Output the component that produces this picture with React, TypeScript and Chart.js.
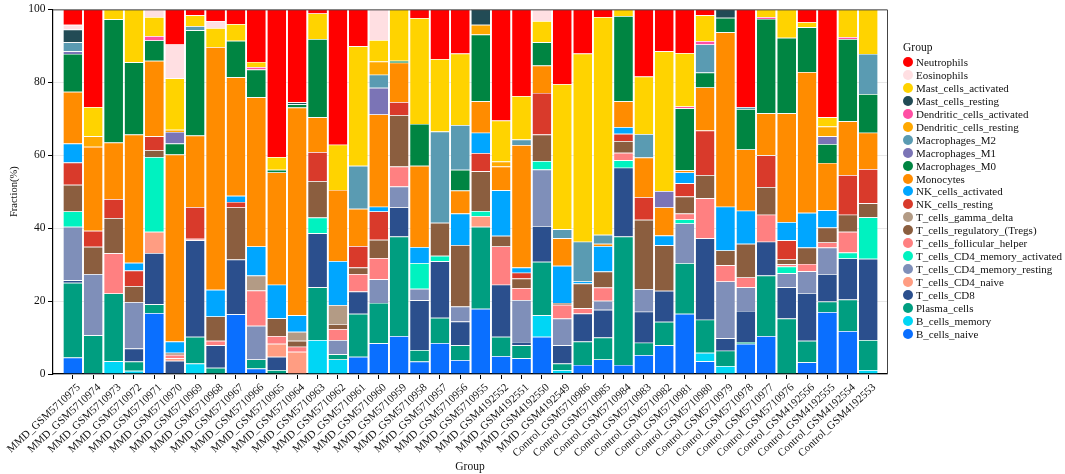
import React, { useEffect, useRef } from 'react';
import { Chart, registerables } from 'chart.js';

Chart.register(...registerables);

const samples = [
  'MMD_GSM5710975', 'MMD_GSM5710974', 'MMD_GSM5710973', 'MMD_GSM5710972', 'MMD_GSM5710971',
  'MMD_GSM5710970', 'MMD_GSM5710969', 'MMD_GSM5710968', 'MMD_GSM5710967', 'MMD_GSM5710966',
  'MMD_GSM5710965', 'MMD_GSM5710964', 'MMD_GSM5710963', 'MMD_GSM5710962', 'MMD_GSM5710961',
  'MMD_GSM5710960', 'MMD_GSM5710959', 'MMD_GSM5710958', 'MMD_GSM5710957', 'MMD_GSM5710956',
  'MMD_GSM5710955', 'MMD_GSM4192552', 'MMD_GSM4192551', 'MMD_GSM4192550', 'MMD_GSM4192549',
  'Control_GSM5710986', 'Control_GSM5710985', 'Control_GSM5710984', 'Control_GSM5710983',
  'Control_GSM5710982', 'Control_GSM5710981', 'Control_GSM5710980', 'Control_GSM5710979',
  'Control_GSM5710978', 'Control_GSM5710977', 'Control_GSM5710976', 'Control_GSM4192556',
  'Control_GSM4192555', 'Control_GSM4192554', 'Control_GSM4192553',
];

// fractions (%) per sample, stacked bottom -> top
const bCellsNaive = [4.5, 0.3, 0, 0, 16.7, 0.3, 0, 0, 16.4, 1.5, 0, 0, 0, 0, 4.7, 8.4, 10.4, 3.4, 8.5, 3.8, 17.9, 4.9, 4.3, 10.2, 0.3, 2.5, 4, 2.5, 5.2, 7.9, 16.5, 3.5, 0, 8.3, 10.4, 0, 3.2, 17, 11.8, 0];
const bCellsMemory = [0, 0, 3.5, 0.9, 0, 0, 2.9, 0, 0, 0, 0, 0, 9.3, 4, 0, 0, 0, 0, 0, 0, 0, 0, 0, 5.9, 0.8, 0, 0, 0, 0, 0, 0, 2.3, 2.2, 0, 0, 0, 0, 0, 0, 1.1];
const plasmaCells = [20.5, 10.3, 18.6, 2.5, 2.4, 0, 7.3, 1.7, 0, 2.5, 1.1, 0, 14.5, 1.4, 11.8, 11.1, 27.3, 3.2, 6.9, 4.1, 22.5, 5.3, 3.6, 14.7, 1.8, 6.4, 6, 35.2, 3.4, 6.4, 13.9, 9.1, 4.2, 0.5, 16.6, 15.2, 5.9, 2.9, 8.6, 8.2];
const tCD8 = [0.7, 0, 0, 3.6, 14.1, 3.3, 26.5, 6.2, 15, 0, 3.6, 0, 14.8, 0, 6.1, 0, 8, 13.6, 15.5, 6.5, 0, 14.3, 0.9, 9.8, 5, 7.7, 7.6, 18.9, 8.5, 8.5, 0, 22.3, 3.4, 8.5, 9.3, 8.6, 13.1, 7.5, 11.3, 22.3];
const tCD4Naive = [0, 0, 0, 0, 5.8, 0.7, 0, 0, 0, 0, 3.6, 6.1, 0, 0, 0, 0, 0, 0, 0, 0, 2.9, 0, 0, 0, 0, 0, 0, 0, 0, 0, 0, 0, 0, 0, 0, 0, 0, 0, 0, 0];
const tCD4MemResting = [14.7, 16.8, 0, 12.7, 0, 0, 0, 0, 0, 9.2, 0, 0, 0, 3.9, 0, 6.5, 5.7, 3.2, 0, 4.1, 0, 0, 11.5, 15.5, 7.3, 0, 2.5, 0, 6.2, 0, 10.9, 0, 15.6, 6.5, 0, 3.8, 6, 7.3, 0, 0];
const tCD4MemActivated = [4.2, 0, 0, 0, 20.5, 0, 0, 0, 0, 0, 0, 0, 4.3, 0, 0, 0, 0, 7, 1.5, 0, 1.4, 0, 0, 2.3, 0, 0, 0, 2, 0, 0, 1.1, 0, 0, 0, 0, 1.9, 0, 0, 1.6, 11.4];
const tFollicular = [0, 0, 11, 0, 0, 1, 0.4, 1.2, 0, 9.7, 2.1, 1.4, 0, 3, 4.8, 5.8, 5.5, 0, 0, 0, 0, 10.5, 3.3, 0, 3.8, 1.4, 3.6, 2.1, 0, 0, 1.6, 11, 4.4, 2.7, 7.4, 0.6, 2, 1.4, 5.7, 0];
const tRegs = [7.3, 7.5, 9.7, 4.4, 1.9, 0.5, 0, 6.7, 14.3, 0, 4.9, 1.6, 10, 1.4, 1.8, 5, 14.1, 0, 9.1, 16.9, 10.9, 2.9, 2.6, 7.3, 0.5, 6.8, 4.4, 3.2, 19, 12.5, 4.7, 6.4, 4.1, 9.2, 7.6, 1.4, 4.5, 4.1, 4.7, 3.8];
const tGammaDelta = [0, 0, 0, 0, 0, 0, 0, 0, 0, 4.1, 0, 2.5, 0, 5.2, 0, 0, 0, 0, 0, 0, 0, 0, 0, 0, 0, 0, 0, 0, 0, 0, 0, 0, 0, 0, 0, 0, 0, 0, 0, 0];
const nkResting = [6.1, 4.4, 5.2, 4.3, 3.8, 0, 8.7, 0, 1.5, 0, 0, 0, 8, 0, 5.9, 7.8, 3.6, 0, 0, 0, 5, 0, 1.6, 11.4, 0, 0, 0, 2, 6.2, 0, 3.6, 12.2, 0, 0, 8.7, 5.2, 0, 0, 10.9, 9.4];
const nkActivated = [5.2, 0, 0, 2.1, 0, 3.1, 0, 7.3, 1.7, 8, 9.2, 4.5, 0, 12.1, 0, 1.3, 0, 4.4, 0, 8.6, 5.6, 12.5, 1.4, 0, 10.2, 0.6, 7, 1.8, 0, 2.7, 3, 0, 12, 9.1, 0, 5, 9.5, 4.7, 0, 0];
const monocytes = [14.2, 23, 15.5, 35.2, 20.7, 51.3, 19.6, 66.6, 32.5, 40.9, 30.8, 57, 9.5, 19.5, 10.2, 25.3, 10.8, 22.3, 0, 6.3, 8.6, 6.5, 33.6, 7.5, 7.5, 0, 0.6, 7.1, 10.9, 7.7, 0.6, 11.8, 47.8, 16.8, 11.5, 29.8, 38.6, 13, 14.7, 10];
const macroM0 = [10.4, 0, 33.8, 19.8, 5.6, 3, 28.9, 0, 10, 7.6, 0.7, 0.9, 21.5, 0, 0, 0, 0.5, 11.5, 0, 5.7, 18.3, 0, 0, 6.4, 0, 0, 0, 23.4, 0, 0, 17, 4.1, 4, 11.1, 25.9, 20.7, 12.3, 5.2, 22.6, 10.6];
const macroM1 = [0.7, 0, 0, 0, 0, 3.2, 0, 0, 0, 0, 0, 0, 0, 0, 0, 7.3, 0, 0, 0, 0, 0, 0, 0, 0, 0, 0, 0, 0, 0, 4.5, 0, 0, 0, 0, 0, 0, 0, 2.1, 0, 0];
const macroM2 = [2.5, 0, 0, 0, 0, 0, 1.1, 0, 0, 0, 0, 0, 0, 0, 11.8, 3.6, 0, 0, 25, 12.3, 0, 0, 1.5, 0, 2.5, 10.9, 2.5, 0, 6.4, 0, 0, 7.7, 0, 0.5, 0, 0, 0, 0, 0, 11];
const dcResting = [0, 2.9, 0, 0, 0, 0.6, 0, 0, 0, 0, 0, 0, 0, 0, 0, 3.6, 0, 0, 0, 0, 2.7, 1.4, 0, 0, 0, 0, 0, 0, 0, 0, 0, 0, 0, 0, 0, 0, 0, 2.7, 0, 0];
const dcActivated = [0, 0, 0, 0, 1.2, 0, 0, 0, 0, 0.7, 0, 0, 0, 0, 0, 0, 0, 0, 0, 0, 0, 0, 0, 0, 0, 0, 0, 0, 0, 0, 0.5, 0.9, 0, 0, 0.5, 0, 0, 0, 0.5, 0];
const mastResting = [3.5, 0, 0, 0, 0, 0, 0, 0, 0, 0, 0, 0.5, 0, 0, 0, 0, 0, 0, 0, 0, 4.2, 0, 0, 0, 0, 0, 0, 0, 0, 0, 0, 0, 2.3, 0, 0, 0, 0, 0, 0, 0];
const mastActivated = [0, 8, 2.7, 14.5, 5.2, 14.1, 3, 5.2, 4.6, 1.4, 3.5, 0, 7, 12.4, 32.8, 5.9, 14.1, 29, 19.9, 19.6, 0, 11.2, 11.9, 5.8, 39.8, 51.6, 59.7, 1.8, 15.8, 38.3, 14.6, 7.1, 0, 0, 2.1, 7.8, 1.4, 2.5, 7.6, 12.2];
const eosinophils = [1.3, 0, 0, 0, 2.1, 9.3, 0, 1.9, 0, 0, 0, 0, 0, 0, 0, 8.4, 0, 0, 0, 0, 0, 0, 0, 3.2, 0, 0, 0, 0, 0, 0, 0, 0, 0, 0, 0, 0, 0, 0, 0, 0];
const neutrophils = [4.2, 26.8, 0, 0, 0, 9.6, 1.6, 3.2, 4, 14.4, 40.5, 25.5, 1.1, 37.1, 10.1, 0, 0, 2.4, 13.6, 12.1, 0, 30.5, 23.8, 0, 20.5, 12.1, 2.1, 0, 18.4, 11.5, 12, 1.6, 0, 26.8, 0, 0, 3.5, 29.6, 0, 0];

const yTicks = [0, 20, 40, 60, 80, 100];

// legend order (top -> bottom), which is the reverse of the stack
const cellTypes: [string, number[], string][] = [
  ['Neutrophils', neutrophils, '#ff0000'],
  ['Eosinophils', eosinophils, '#ffdfe2'],
  ['Mast_cells_activated', mastActivated, '#ffd300'],
  ['Mast_cells_resting', mastResting, '#224b55'],
  ['Dendritic_cells_activated', dcActivated, '#ff4fa3'],
  ['Dendritic_cells_resting', dcResting, '#ffa800'],
  ['Macrophages_M2', macroM2, '#5a9bb2'],
  ['Macrophages_M1', macroM1, '#7b74b6'],
  ['Macrophages_M0', macroM0, '#008542'],
  ['Monocytes', monocytes, '#ff8c00'],
  ['NK_cells_activated', nkActivated, '#00a6ff'],
  ['NK_cells_resting', nkResting, '#d93a2b'],
  ['T_cells_gamma_delta', tGammaDelta, '#b39b85'],
  ['T_cells_regulatory_(Tregs)', tRegs, '#8b5e3f'],
  ['T_cells_follicular_helper', tFollicular, '#ff8081'],
  ['T_cells_CD4_memory_activated', tCD4MemActivated, '#00f2c0'],
  ['T_cells_CD4_memory_resting', tCD4MemResting, '#7f8fb9'],
  ['T_cells_CD4_naive', tCD4Naive, '#ff9d82'],
  ['T_cells_CD8', tCD8, '#2b4f8d'],
  ['Plasma_cells', plasmaCells, '#009e80'],
  ['B_cells_memory', bCellsMemory, '#00d6f5'],
  ['B_cells_naive', bCellsNaive, '#0a6fff'],
];

const serif = '"Liberation Serif", "Times New Roman", serif';

const framePlugin = {
  id: 'frame',
  afterDraw(chart: any) {
    const { ctx, chartArea } = chart;
    ctx.save();
    ctx.strokeStyle = '#444';
    ctx.lineWidth = 1;
    ctx.beginPath();
    ctx.moveTo(chartArea.left, chartArea.top + 0.5);
    ctx.lineTo(chartArea.right + 0.5, chartArea.top + 0.5);
    ctx.lineTo(chartArea.right + 0.5, chartArea.bottom);
    ctx.stroke();
    ctx.restore();
  },
};

const App: React.FC = () => {
  const chartRef = useRef<HTMLCanvasElement>(null);

  useEffect(() => {
    document.body.style.margin = '0';
    if (!chartRef.current) return;
    const ctx = chartRef.current.getContext('2d');
    if (!ctx) return;

    const datasets = [...cellTypes].reverse().map(([label, values, color]) => ({
      label,
      data: values.map((v, i) => ({ x: i, y: v })),
      backgroundColor: color,
      borderColor: 'rgba(255,255,255,0.75)',
      borderWidth: { top: 0.7, bottom: 0, left: 0, right: 0 },
      borderSkipped: false,
      barPercentage: 0.92,
      categoryPercentage: 1,
    }));

    const myChart = new Chart(ctx, {
      type: 'bar',
      data: { datasets },
      plugins: [framePlugin],
      options: {
        responsive: false,
        animation: false,
        layout: { padding: { top: 7, right: 178, left: 0, bottom: 0 } },
        plugins: {
          legend: { display: false },
          tooltip: { enabled: false },
        },
        scales: {
          x: {
            type: 'linear',
            stacked: true,
            min: -0.97,
            max: 39.92,
            offset: false,
            afterBuildTicks: (scale: any) => {
              scale.ticks = samples.map((_, i) => ({ value: i }));
            },
            afterFit: (scale: any) => {
              scale.height = 100;
            },
            ticks: {
              autoSkip: false,
              minRotation: 43,
              maxRotation: 43,
              padding: 2,
              labelOffset: 6,
              color: '#111',
              font: { family: serif, size: 11 },
              callback: (v: any) => samples[Math.round(Number(v))] ?? '',
            },
            grid: {
              display: true,
              drawOnChartArea: false,
              offset: false,
              tickLength: 5,
              tickColor: '#000',
            },
            border: { display: true, color: '#000', width: 1.2 },
            title: {
              display: true,
              text: 'Group',
              color: '#111',
              font: { family: serif, size: 11.5 },
              padding: { top: 0, bottom: 0 },
            },
          },
          y: {
            stacked: true,
            min: 0,
            max: 100,
            afterBuildTicks: (scale: any) => {
              scale.ticks = yTicks.map((value) => ({ value }));
            },
            afterFit: (scale: any) => {
              scale.width = 45;
            },
            ticks: {
              padding: 2.5,
              color: '#111',
              font: { family: serif, size: 11.5 },
            },
            grid: {
              color: '#e8e8e8',
              tickColor: '#000',
              tickLength: 5,
            },
            border: { display: true, color: '#000', width: 1.2 },
            title: {
              display: true,
              text: 'Fraction(%)',
              color: '#111',
              font: { family: serif, size: 10.5 },
              padding: { top: 0, bottom: 0 },
            },
          },
        },
      },
    });

    return () => {
      myChart.destroy();
    };
  }, []);

  const rowH = 12.95;

  return (
    <div style={{ position: 'relative', width: 1065, height: 474, background: '#fff', fontFamily: serif }}>
      <canvas ref={chartRef} width={1065} height={474} style={{ width: 1065, height: 474, display: 'block' }} />
      <div style={{ position: 'absolute', left: 903, top: 40, fontSize: 11.5, lineHeight: '15px', color: '#111' }}>Group</div>
      {cellTypes.map(([label, , color], i) => (
        <div
          key={label}
          style={{
            position: 'absolute',
            left: 903,
            top: 62 - rowH / 2 + i * rowH,
            height: rowH,
            display: 'flex',
            alignItems: 'center',
            fontSize: 11,
            color: '#111',
            whiteSpace: 'nowrap',
          }}
        >
          <span style={{ width: 10, height: 10, borderRadius: '50%', background: color, marginRight: 3, flex: 'none' }} />
          <span>{label}</span>
        </div>
      ))}
    </div>
  );
};

export default App;
